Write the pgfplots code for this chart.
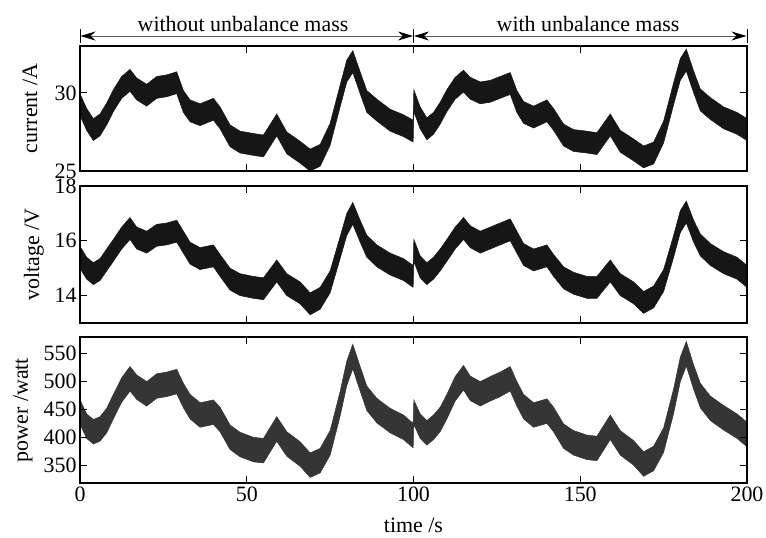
\documentclass[border=0pt]{standalone}
\usepackage{fontspec}
\setmainfont{Liberation Serif}
\usepackage{pgfplots}
\pgfplotsset{compat=1.18}
\usepackage{pgfplotstable}
\usetikzlibrary{arrows.meta}

\definecolor{bandA}{HTML}{161616}
\definecolor{bandB}{HTML}{353535}

% t, lower edge of current / voltage / power band, band widths
\pgfplotstableread{
t clo vlo plo cw vw pw
0 28.55 15.0 423 1.4 0.8 44
2 27.6 14.6 398 1.4 0.8 44
4 26.95 14.4 388 1.4 0.8 44
6 27.25 14.55 393 1.4 0.8 44
8 27.95 14.9 408 1.4 0.8 44
10 28.8 15.25 433 1.4 0.8 44
12.5 29.65 15.7 463 1.4 0.8 44
15 30.1 16.05 483 1.4 0.8 44
17 29.55 15.7 468 1.4 0.8 44
20 29.15 15.55 456 1.4 0.8 44
23 29.65 15.8 470 1.4 0.8 44
26 29.75 15.85 473 1.4 0.8 44
29 29.95 15.95 478 1.4 0.8 44
31 28.75 15.55 453 1.4 0.8 44
33 28.15 15.15 433 1.4 0.8 44
36 27.9 14.95 418 1.4 0.8 44
40 28.25 15.05 423 1.4 0.8 44
42 27.7 14.7 410 1.4 0.8 44
45 26.55 14.2 378 1.4 0.8 44
48 26.15 14.0 365 1.4 0.8 44
52 26.0 13.9 356 1.4 0.8 44
55 25.9 13.85 354 1.4 0.8 44
59 27.25 14.5 393 1.4 0.8 44
62 26.1 14.0 366 1.4 0.8 44
66 25.5 13.7 348 1.4 0.8 44
69 25.0 13.3 328 1.4 0.8 44
72 25.3 13.5 336 1.4 0.8 44
75 26.65 14.1 368 1.4 0.8 44
78 29.1 15.35 438 1.4 0.8 44
80 30.7 16.2 493 1.4 0.8 44
81.8 31.3 16.6 523 1.4 0.8 44
84 29.95 15.95 483 1.4 0.8 44
86 28.75 15.4 448 1.4 0.8 44
89 28.2 15.05 426 1.4 0.8 44
93 27.55 14.75 408 1.4 0.8 44
97 27.2 14.55 396 1.4 0.8 44
99.9 26.85 14.3 381 1.4 0.8 44
100.1 28.8 15.25 423 1.4 0.8 44
102 27.7 14.65 398 1.4 0.8 44
104 27.0 14.4 386 1.4 0.8 44
106 27.35 14.6 396 1.4 0.8 44
108 28.0 14.9 410 1.4 0.8 44
110 28.8 15.25 433 1.4 0.8 44
112.5 29.6 15.7 465 1.4 0.8 44
115 30.05 16.05 485 1.4 0.8 44
117 29.6 15.75 466 1.4 0.8 44
120 29.3 15.55 456 1.4 0.8 44
123 29.4 15.7 465 1.4 0.8 44
126 29.65 15.85 473 1.4 0.8 44
129 29.9 16.0 483 1.4 0.8 44
131 28.75 15.55 456 1.4 0.8 44
133 28.05 15.1 433 1.4 0.8 44
136 27.75 14.9 418 1.4 0.8 44
140 28.15 15.05 425 1.4 0.8 44
142 27.6 14.7 410 1.4 0.8 44
145 26.6 14.25 380 1.4 0.8 44
148 26.25 14.05 368 1.4 0.8 44
152 26.15 13.9 360 1.4 0.8 44
155 26.05 13.9 358 1.4 0.8 44
159 27.25 14.5 396 1.4 0.8 44
162 26.2 14.0 368 1.4 0.8 44
166 25.65 13.7 350 1.4 0.8 44
169 25.2 13.35 330 1.4 0.8 44
172 25.45 13.55 340 1.4 0.8 44
175 26.8 14.15 373 1.4 0.8 44
178 29.25 15.4 443 1.4 0.8 44
180 30.8 16.3 500 1.4 0.8 44
181.8 31.4 16.65 528 1.4 0.8 44
184 30.0 15.95 486 1.4 0.8 44
186 28.85 15.45 453 1.4 0.8 44
189 28.3 15.1 430 1.4 0.8 44
193 27.7 14.8 413 1.4 0.8 44
197 27.35 14.6 398 1.4 0.8 44
200 26.95 14.3 383 1.4 0.8 44
}\sig

\pgfplotsset{myax/.style={
  scale only axis, width=667bp, xmin=0, xmax=200,
  xtick={0,50,100,150,200},
  tick align=inside, major tick length=7bp,
  tick style={black, line width=0.8bp},
  axis line style={line width=1.1bp},
  /pgf/number format/assume math mode=true,
  ticklabel style={font=\fontsize{22}{26}\selectfont},
  label style={font=\fontsize{22}{26}\selectfont},
  anchor=south west, axis on top, stack plots=y
}}

\begin{document}
\begin{tikzpicture}[font=\fontsize{22}{26}\selectfont]
\path[use as bounding box] (0,0) rectangle (766bp,538bp);

\begin{axis}[myax, at={(80bp,367bp)}, height=125bp,
  ymin=25, ymax=33, ytick={25,30}, xticklabels={},
  ylabel={current /A},
  ylabel style={at={(axis description cs:-0.075,0.5)}, anchor=center}]
\addplot[draw=none] table[x=t,y=clo]{\sig};
\addplot[fill=bandA, draw=bandA, line width=0.5bp] table[x=t,y=cw]{\sig} \closedcycle;
\end{axis}

\begin{axis}[myax, at={(80bp,215bp)}, height=137bp,
  ymin=13, ymax=18, ytick={14,16,18}, xticklabels={},
  ylabel={voltage /V},
  ylabel style={at={(axis description cs:-0.069,0.5)}, anchor=center}]
\addplot[draw=none] table[x=t,y=vlo]{\sig};
\addplot[fill=bandA, draw=bandA, line width=0.5bp] table[x=t,y=vw]{\sig} \closedcycle;
\end{axis}

\begin{axis}[myax, at={(80bp,55bp)}, height=146bp,
  ymin=318, ymax=580, ytick={350,400,450,500,550},
  ylabel={power /watt},
  ylabel style={at={(axis description cs:-0.0855,0.5)}, anchor=center},
  xlabel={time /s},
  xlabel style={at={(axis description cs:0.5,-0.29)}, anchor=center}]
\addplot[draw=none] table[x=t,y=plo]{\sig};
\addplot[fill=bandB, draw=bandB, line width=0.5bp] table[x=t,y=pw]{\sig} \closedcycle;
\end{axis}

% annotation arrows
\draw[gray!70!black, line width=0.8bp,
  {Stealth[length=15bp,width=9bp,color=black]}-{Stealth[length=15bp,width=9bp,color=black]}]
  (80.5bp,502bp) -- (413bp,502bp);
\draw[gray!70!black, line width=0.8bp,
  {Stealth[length=15bp,width=9bp,color=black]}-{Stealth[length=15bp,width=9bp,color=black]}]
  (414bp,502bp) -- (746.5bp,502bp);
\draw[black, line width=0.8bp] (80bp,495bp) -- (80bp,509bp);
\draw[black, line width=0.8bp] (413.5bp,495bp) -- (413.5bp,509bp);
\draw[black, line width=0.8bp] (747bp,495bp) -- (747bp,509bp);
\node[anchor=base, inner sep=0pt] at (243bp,506bp) {without unbalance mass};
\node[anchor=base, inner sep=0pt] at (588bp,506bp) {with unbalance mass};
\end{tikzpicture}
\end{document}
